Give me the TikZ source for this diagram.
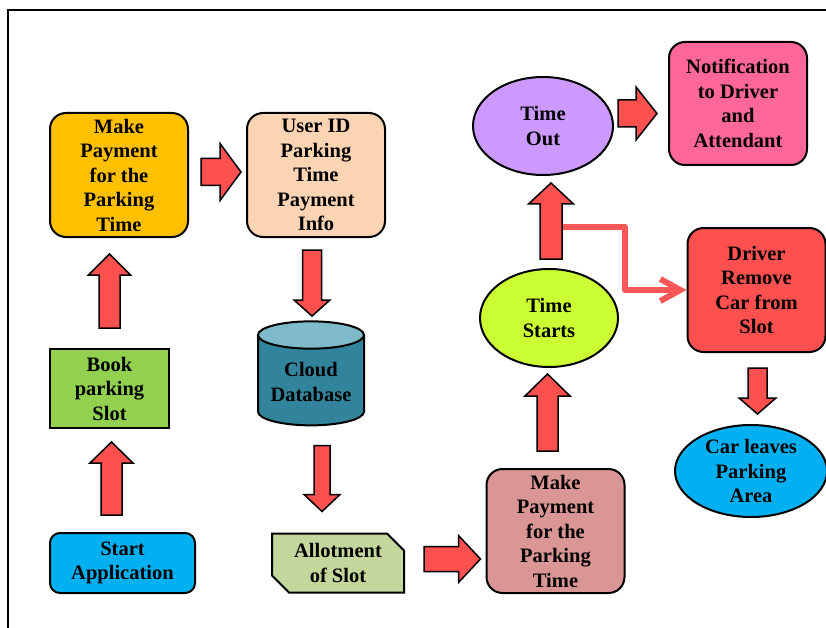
\documentclass[tikz,border=0pt]{standalone}
\usepackage{fontspec}
\setmainfont{Liberation Serif}
\usepackage{tikz}
\usetikzlibrary{positioning, shapes.geometric, shapes.misc, arrows.meta, calc}
\definecolor{payorange}{HTML}{FFC000}
\definecolor{infopeach}{HTML}{FBD4B4}
\definecolor{bookgreen}{HTML}{92D050}
\definecolor{appblue}{HTML}{00B0F0}
\definecolor{cloudteal}{HTML}{31849B}
\definecolor{cloudtop}{HTML}{7FBACB}
\definecolor{slotgreen}{HTML}{C3D69B}
\definecolor{payrose}{HTML}{D99694}
\definecolor{startlime}{HTML}{CCFF33}
\definecolor{outpurple}{HTML}{CC99FF}
\definecolor{notepink}{HTML}{FF6699}
\definecolor{driverred}{HTML}{FF5050}
\definecolor{linered}{HTML}{FA5858}

% block arrow: tail, tip, shaft half width, head half width, head length
\newcommand{\bigarrow}[5]{%
  \path #1 coordinate (ba-t) #2 coordinate (ba-e);
  \path ($(ba-e)!#5!(ba-t)$) coordinate (ba-h);
  \draw[blockarrow] ($(ba-t)!#3!90:(ba-e)$) -- ($(ba-h)!#3!-90:(ba-t)$)
    -- ($(ba-h)!#4!-90:(ba-t)$) -- (ba-e) -- ($(ba-h)!#4!90:(ba-t)$)
    -- ($(ba-h)!#3!90:(ba-t)$) -- ($(ba-t)!#3!-90:(ba-e)$) -- cycle;}

\begin{document}
\begin{tikzpicture}[x=1pt, y=-1pt,
    every node/.style={font=\bfseries\fontsize{20.5}{24.5}\selectfont, align=center, inner sep=1pt, line width=2pt},
    box/.style    ={draw, rounded corners=16pt, minimum width=138pt, minimum height=124pt},
    flat/.style   ={draw, minimum width=119pt, minimum height=79pt},
    oval/.style   ={draw, ellipse, inner sep=0pt, minimum width=139pt, minimum height=98pt},
    blockarrow/.style={draw=black, fill=driverred, line width=1.5pt, line join=miter},
    branchline/.style={draw=linered, line width=6pt, line cap=round, line join=round,
                       -{Straight Barb[length=20pt, width=22pt]}}
]
\useasboundingbox (0,0) rectangle (826,628);
\draw[line width=2pt] (8,628) -- (8,10) -- (826,10);

% Column 1 -- booking
\node[box, fill=payorange] (make1) at (119,175) {Make\\Payment\\for the\\Parking\\Time};
\node[box, fill=infopeach, right=57pt of make1] (user) {User ID\\Parking\\Time\\Payment\\Info};
\node[flat, fill=bookgreen, below=110pt of make1.south west, anchor=north west] (book) {Book\\parking\\Slot};
\node[box, fill=appblue, rounded corners=10pt, minimum width=145pt, minimum height=60pt,
      below=103pt of book.south west, anchor=north west] (start) {Start\\Application};

% Column 2 -- storage and slot
\node[draw, cylinder, shape border rotate=90, aspect=0.33, minimum width=106pt, minimum height=104pt,
      cylinder uses custom fill, cylinder body fill=cloudteal, cylinder end fill=cloudtop]
      (cloud) at (311,382) {Cloud\\Database};
\node[draw, chamfered rectangle, chamfered rectangle corners={north east, south west},
      chamfered rectangle xsep=9pt, chamfered rectangle ysep=8pt, fill=slotgreen,
      minimum width=132pt, minimum height=59pt, right=75pt of start] (allot) {Allotment\\of Slot};

% Column 3 -- timing
\node[box, fill=payrose] (make2) at (555.5,531) {Make\\Payment\\for the\\Parking\\Time};
\node[oval, fill=startlime, minimum width=138pt] (starts) at (549,318) {Time\\Starts};
\node[oval, fill=outpurple, minimum width=140pt] (timeout) at (543,126) {Time\\Out};

% Column 4 -- outcomes
\node[box, fill=notepink, minimum height=123pt] (notif) at (738,103.5) {Notification\\to Driver\\and\\Attendant};
\node[box, fill=driverred] (driver) at (756.5,290) {Driver\\Remove\\Car from\\Slot};
\node[oval, fill=appblue, minimum width=152pt, minimum height=92pt, inner ysep=-4pt] (leaves) at (751,471) {Car leaves\\Parking\\Area};

% Branch line to driver
\coordinate (branch) at ($(starts.north)+(13,-41)$);
\draw[branchline] (branch) -- ++(63,0) |- (driver.west);

% Block arrows
\bigarrow{($(make1.east)+(12,-3)$)}{($(user.west)+(-5,-3)$)}{13.5pt}{28.5pt}{21pt}
\bigarrow{($(book.north)+(0,-20)$)}{($(book.north |- make1.south)+(0,16)$)}{10.5pt}{21pt}{21pt}
\bigarrow{($(book.south |- start.north)+(2,-17)$)}{($(book.south)+(2,13)$)}{10.5pt}{21.5pt}{21pt}
\bigarrow{($(user.south)+(-4,12)$)}{($(user.south)+(-4,78)$)}{9.5pt}{18pt}{16pt}
\bigarrow{($(allot.north)+(-16,-87)$)}{($(allot.north)+(-16,-21)$)}{8pt}{18pt}{17pt}
\bigarrow{($(allot.east)+(19,-4)$)}{($(make2.west |- allot.east)+(-5,-4)$)}{12.5pt}{23.5pt}{22pt}
\bigarrow{($(make2.north)+(-8,-17)$)}{($(starts.south)+(-1.5,6)$)}{10.5pt}{22.5pt}{22pt}
\bigarrow{($(starts.north)+(2,-9)$)}{($(starts.north |- timeout.south)+(2,7)$)}{11pt}{22.5pt}{21pt}
\bigarrow{($(timeout.east)+(4,-12.5)$)}{($(notif.west |- timeout.east)+(-11,-12.5)$)}{13.5pt}{26.5pt}{21pt}
\bigarrow{($(driver.south)+(1,15)$)}{($(driver.south)+(1,61)$)}{9.5pt}{18.5pt}{16pt}
\end{tikzpicture}
\end{document}
